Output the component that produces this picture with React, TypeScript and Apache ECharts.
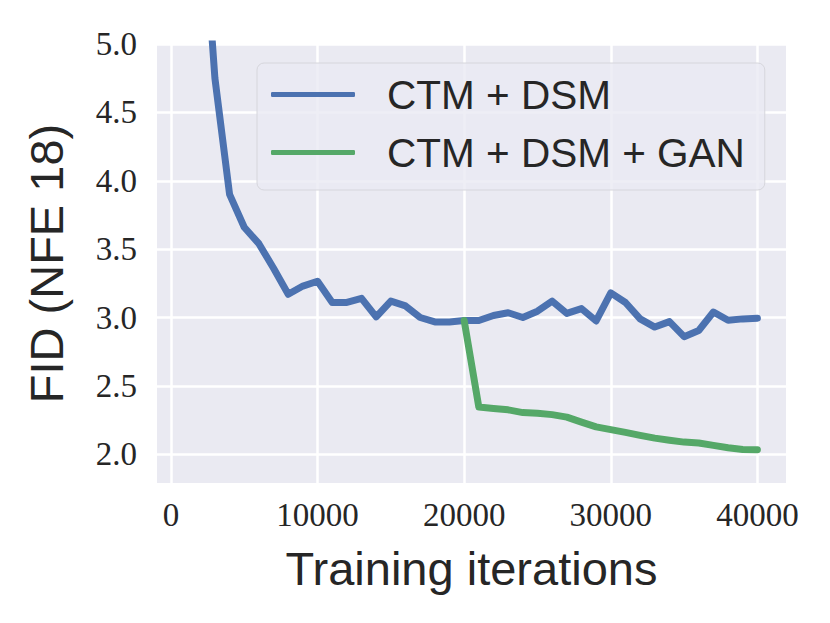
import React, { useEffect, useRef } from "react";
import * as echarts from "echarts";

const iterations: number[] = [
  1000, 2000, 3000, 4000, 5000, 6000, 7000, 8000, 9000, 10000,
  11000, 12000, 13000, 14000, 15000, 16000, 17000, 18000, 19000, 20000,
  21000, 22000, 23000, 24000, 25000, 26000, 27000, 28000, 29000, 30000,
  31000, 32000, 33000, 34000, 35000, 36000, 37000, 38000, 39000, 40000,
];

const ctmDsm: number[] = [
  9.5, 6.24, 4.75, 3.9, 3.66, 3.54, 3.36, 3.17, 3.23, 3.265,
  3.11, 3.11, 3.14, 3.005, 3.12, 3.085, 3.0, 2.968, 2.968, 2.978,
  2.978, 3.015, 3.035, 3.0, 3.046, 3.12, 3.03, 3.065, 2.975, 3.18,
  3.11, 2.99, 2.93, 2.97, 2.86, 2.905, 3.04, 2.98, 2.99, 2.995,
];

const ganIterations: number[] = [
  20000, 21000, 22000, 23000, 24000, 25000, 26000, 27000, 28000, 29000, 30000,
  31000, 32000, 33000, 34000, 35000, 36000, 37000, 38000, 39000, 40000,
];

const ctmDsmGan: number[] = [
  2.978, 2.345, 2.335, 2.325, 2.305, 2.3, 2.29, 2.272, 2.235, 2.2, 2.18,
  2.16, 2.138, 2.118, 2.103, 2.089, 2.082, 2.065, 2.048, 2.035, 2.033,
];

const xTicks: number[] = [0, 10000, 20000, 30000, 40000];
const yTicks: number[] = [2.0, 2.5, 3.0, 3.5, 4.0, 4.5, 5.0];

const seriesNames: string[] = ["CTM + DSM", "CTM + DSM + GAN"];
const seriesColors: string[] = ["#4C72B0", "#55A868"];
const xTitle = "Training iterations";
const yTitle = "FID (NFE 18)";

export default function App() {
  const ref = useRef<HTMLDivElement>(null);

  useEffect(() => {
    document.body.style.margin = "0";
    if (!ref.current) return;
    const chart = echarts.init(ref.current, undefined, { renderer: "svg" });
    const serif = "'Liberation Serif', 'Times New Roman', serif";
    const sans = "'Liberation Sans', Arial, sans-serif";
    const makeLine = (i: number, xs: number[], ys: number[]) => ({
      name: seriesNames[i],
      type: "line",
      data: xs.map((x, k) => [x, ys[k]]),
      showSymbol: false,
      symbol: "none",
      clip: true,
      color: seriesColors[i],
      lineStyle: { color: seriesColors[i], width: 7, cap: "round", join: "round" },
      emphasis: { disabled: true },
    });
    chart.setOption({
      animation: false,
      backgroundColor: "#ffffff",
      grid: { left: 157, right: 44, top: 44, bottom: 140, containLabel: false },
      xAxis: {
        type: "value",
        min: -950,
        max: 41950,
        name: xTitle,
        nameLocation: "middle",
        nameGap: 62,
        nameTextStyle: { fontFamily: sans, fontSize: 47, color: "#262626" },
        axisLine: { show: false },
        axisTick: { show: false, customValues: xTicks },
        axisLabel: {
          customValues: xTicks,
          margin: 15,
          fontFamily: serif,
          fontSize: 33,
          color: "#262626",
          formatter: (v: number) => String(v),
        },
        splitLine: { show: true, lineStyle: { color: "#ffffff", width: 2.5 } },
      },
      yAxis: {
        type: "value",
        min: 1.79,
        max: 5,
        name: yTitle,
        nameLocation: "middle",
        nameGap: 87,
        nameTextStyle: { fontFamily: sans, fontSize: 47, color: "#262626" },
        axisLine: { show: false },
        axisTick: { show: false, customValues: yTicks },
        axisLabel: {
          customValues: yTicks,
          margin: 20,
          fontFamily: serif,
          fontSize: 33,
          color: "#262626",
          formatter: (v: number) => v.toFixed(1),
        },
        splitLine: { show: true, lineStyle: { color: "#ffffff", width: 2.5 } },
        splitArea: { show: false },
      },
      legend: {
        orient: "vertical",
        left: 257,
        top: 63,
        padding: [11, 20, 17, 14],
        itemWidth: 84,
        itemHeight: 5,
        itemGap: 17,
        backgroundColor: "rgba(234,234,242,0.8)",
        borderColor: "#d6d6dc",
        borderWidth: 1,
        borderRadius: 7,
        textStyle: {
          fontFamily: sans,
          fontSize: 40.5,
          color: "#262626",
          padding: [0, 0, 0, 27],
        },
        data: seriesNames.map((n, i) => ({
          name: n,
          icon: "roundRect",
          itemStyle: { color: seriesColors[i] },
        })),
      },
      series: [
        makeLine(0, iterations, ctmDsm),
        makeLine(1, ganIterations, ctmDsmGan),
      ],
    });
    const zr = chart.getZr();
    const rect = new echarts.graphic.Rect({
      shape: { x: 157, y: 44, width: 830 - 157 - 44, height: 623 - 44 - 140 },
      style: { fill: "#EAEAF2" },
      z: -10,
      silent: true,
    });
    zr.add(rect);
    return () => {
      chart.dispose();
    };
  }, []);

  return <div ref={ref} style={{ width: 830, height: 623 }} />;
}
